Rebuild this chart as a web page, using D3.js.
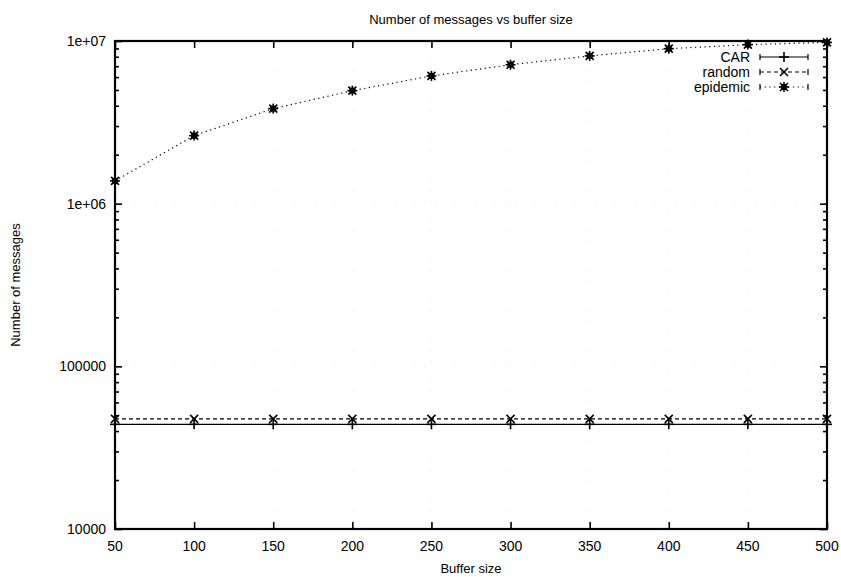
<!DOCTYPE html>
<html>
<head>
<meta charset="utf-8">
<script src="https://cdn.jsdelivr.net/npm/d3@7"></script>
<style>
body { margin:0; background:#fff; }
svg text { font-family:"Liberation Sans", Arial, sans-serif; fill:#000; }
</style>
</head>
<body>
<div class="canvas"></div>
<script>
var pageWidth = 841,
    pageHeight = 577;
var margins = {t:41,r:14,b:48,l:115};
var plotWidth = pageWidth - margins.l - margins.r,
    plotHeight = pageHeight - margins.t - margins.b;

// data
var bufferSizes = [50,100,150,200,250,300,350,400,450,500];
var carValues = [44000,44000,44000,44000,44000,44000,44000,44000,44000,44000];
var randomValues = [47500,47500,47500,47500,47500,47500,47500,47500,47500,47500];
var epidemicValues = [1380000,2620000,3840000,4950000,6100000,7150000,8100000,8970000,9500000,9800000];
var seriesNames = ['CAR','random','epidemic'];
var yTickValues = [10000,100000,1000000,10000000];
var yTickLabels = ['10000','100000','1e+06','1e+07'];

var series = [
    {name:seriesNames[0], values:carValues, dash:null, marker:'plus'},
    {name:seriesNames[1], values:randomValues, dash:'4,3', marker:'cross'},
    {name:seriesNames[2], values:epidemicValues, dash:'1.2,3.5', marker:'star'}
];

var svg = d3.select('.canvas')
    .append('svg')
    .attr('width',pageWidth)
    .attr('height',pageHeight);

var plot = svg.append('g')
    .attr('transform','translate('+margins.l+','+margins.t+')');

var x = d3.scaleLinear().domain([50,500]).range([0,plotWidth]);
var y = d3.scaleLog().domain([10000,10000000]).range([plotHeight,0]);

// faint grid (scan shows only specks of it)
var grid = plot.append('g').attr('class','grid');
bufferSizes.slice(1,-1).forEach(function(b){
    grid.append('line')
        .attr('x1',x(b)).attr('x2',x(b))
        .attr('y1',0).attr('y2',plotHeight)
        .style('stroke','#ddd').style('stroke-width',0.6)
        .style('stroke-dasharray','1,9');
});
yTickValues.slice(1,-1).forEach(function(v){
    grid.append('line')
        .attr('x1',0).attr('x2',plotWidth)
        .attr('y1',y(v)).attr('y2',y(v))
        .style('stroke','#ddd').style('stroke-width',0.6)
        .style('stroke-dasharray','1,9');
});

// axes: ticks pointing inward on all four sides
var minorTicks = [];
for(var d = 10000; d < 10000000; d *= 10){
    for(var k = 2; k <= 9; k++) minorTicks.push(d*k);
}

var axisLeft = d3.axisRight(y).tickValues(yTickValues).tickSize(7).tickFormat('');
var axisLeftMinor = d3.axisRight(y).tickValues(minorTicks).tickSize(4).tickFormat('');
var axisRightMajor = d3.axisLeft(y).tickValues(yTickValues).tickSize(7).tickFormat('');
var axisRightMinor = d3.axisLeft(y).tickValues(minorTicks).tickSize(4).tickFormat('');
var axisBottom = d3.axisTop(x).tickValues(bufferSizes).tickSize(7).tickFormat('');
var axisTop = d3.axisBottom(x).tickValues(bufferSizes).tickSize(7).tickFormat('');

plot.append('g').call(axisLeft);
plot.append('g').call(axisLeftMinor);
plot.append('g').attr('transform','translate('+plotWidth+',0)').call(axisRightMajor);
plot.append('g').attr('transform','translate('+plotWidth+',0)').call(axisRightMinor);
plot.append('g').attr('transform','translate(0,'+plotHeight+')').call(axisBottom);
plot.append('g').call(axisTop);
plot.selectAll('.domain').remove();
plot.selectAll('.tick line').style('stroke','#000').style('stroke-width',1.6);

plot.append('rect')
    .attr('width',plotWidth)
    .attr('height',plotHeight)
    .style('fill','none')
    .style('stroke','#000')
    .style('stroke-width',2.2);

// tick labels
yTickValues.forEach(function(v,i){
    plot.append('text')
        .attr('x',-9)
        .attr('y',y(v))
        .attr('dy','0.35em')
        .attr('text-anchor','end')
        .style('font-size','14px')
        .text(yTickLabels[i]);
});
bufferSizes.forEach(function(b){
    plot.append('text')
        .attr('x',x(b))
        .attr('y',plotHeight+22)
        .attr('text-anchor','middle')
        .style('font-size','14px')
        .text(b);
});

// titles
svg.append('text')
    .attr('x',margins.l+plotWidth/2)
    .attr('y',24)
    .attr('text-anchor','middle')
    .style('font-size','13px')
    .text('Number of messages vs buffer size');
svg.append('text')
    .attr('x',margins.l+plotWidth/2)
    .attr('y',573)
    .attr('text-anchor','middle')
    .style('font-size','13px')
    .text('Buffer size');
svg.append('text')
    .attr('transform','translate(20,'+(margins.t+plotHeight/2)+') rotate(-90)')
    .attr('text-anchor','middle')
    .style('font-size','13px')
    .text('Number of messages');

function drawMarker(g, kind, cx, cy){
    var s = 5;
    var m = g.append('g').attr('transform','translate('+cx+','+cy+')')
        .style('stroke','#000').style('stroke-width',1.6);
    if(kind === 'plus' || kind === 'star'){
        m.append('line').attr('x1',-s).attr('x2',s).attr('y1',0).attr('y2',0);
        m.append('line').attr('x1',0).attr('x2',0).attr('y1',-s).attr('y2',s);
    }
    if(kind === 'cross' || kind === 'star'){
        m.append('line').attr('x1',-s*0.8).attr('x2',s*0.8).attr('y1',-s*0.8).attr('y2',s*0.8);
        m.append('line').attr('x1',-s*0.8).attr('x2',s*0.8).attr('y1',s*0.8).attr('y2',-s*0.8);
    }
    if(kind === 'star'){
        m.append('rect').attr('x',-3).attr('y',-3).attr('width',6).attr('height',6)
            .style('fill','#000').style('stroke','none');
    }
}

var line = d3.line()
    .x(function(d,i){ return x(bufferSizes[i]); })
    .y(function(d){ return y(d); });

series.forEach(function(s){
    var g = plot.append('g').attr('class','series');
    g.append('path')
        .datum(s.values)
        .attr('d',line)
        .style('fill','none')
        .style('stroke','#000')
        .style('stroke-width',1.2)
        .style('stroke-dasharray',s.dash);
    s.values.forEach(function(v,i){
        drawMarker(g, s.marker, x(bufferSizes[i]), y(v));
    });
});

// legend
var legend = plot.append('g').attr('transform','translate('+(plotWidth-77)+',16)');
series.forEach(function(s,i){
    var ly = i*15;
    legend.append('text')
        .attr('x',0)
        .attr('y',ly)
        .attr('dy','0.35em')
        .attr('text-anchor','end')
        .style('font-size','14px')
        .text(s.name);
    legend.append('line')
        .attr('x1',10).attr('x2',58)
        .attr('y1',ly).attr('y2',ly)
        .style('stroke','#000').style('stroke-width',1.2)
        .style('stroke-dasharray',s.dash);
    legend.append('line')
        .attr('x1',10).attr('x2',10).attr('y1',ly-3).attr('y2',ly+3)
        .style('stroke','#000').style('stroke-width',1.2);
    legend.append('line')
        .attr('x1',58).attr('x2',58).attr('y1',ly-3).attr('y2',ly+3)
        .style('stroke','#000').style('stroke-width',1.2);
    drawMarker(legend, s.marker, 34, ly);
});
</script>
</body>
</html>
